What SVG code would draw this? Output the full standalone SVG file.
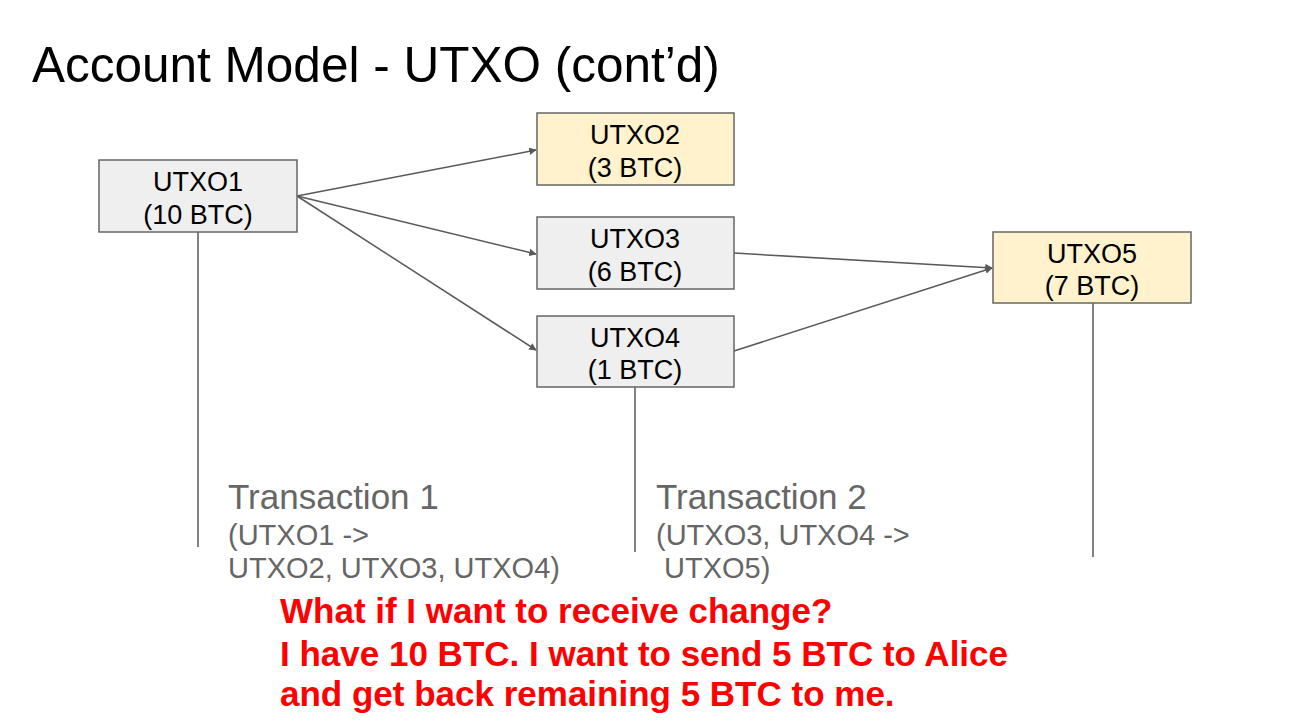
<svg xmlns="http://www.w3.org/2000/svg" width="1294" height="728" viewBox="0 0 1294 728">
<defs>
<marker id="arr" viewBox="0 0 10 10" refX="9" refY="5" markerWidth="5" markerHeight="5" orient="auto" markerUnits="strokeWidth">
<path d="M0,0 L10,5 L0,10 z" fill="#595959"/>
</marker>
<style>
.box{fill:#efefef;stroke:#666;stroke-width:1.5}
.yel{fill:#fff2cc;stroke:#666;stroke-width:1.5}
.nt{font-family:"Liberation Sans",Arial,sans-serif;font-size:27px;fill:#000;text-anchor:middle}
.ln{stroke:#595959;stroke-width:1.5;fill:none}
.tx{font-family:"Liberation Sans",Arial,sans-serif;fill:#666}
.red{font-family:"Liberation Sans",Arial,sans-serif;font-weight:bold;font-size:35px;fill:#ff0000}
</style>
</defs>
<rect width="1294" height="728" fill="#fff"/>
<text x="32" y="82" font-family="Liberation Sans, Arial, sans-serif" font-size="49.5" fill="#000">Account Model - UTXO (cont’d)</text>

<g id="connectors">
<line class="ln" x1="297" y1="196" x2="536" y2="150" marker-end="url(#arr)"/>
<line class="ln" x1="297" y1="196" x2="536" y2="254" marker-end="url(#arr)"/>
<line class="ln" x1="297" y1="196" x2="536" y2="350" marker-end="url(#arr)"/>
<line class="ln" x1="734" y1="253" x2="992" y2="268" marker-end="url(#arr)"/>
<line class="ln" x1="734" y1="351" x2="992" y2="268" marker-end="url(#arr)"/>
<line class="ln" x1="198" y1="232" x2="198" y2="547"/>
<line class="ln" x1="635" y1="387" x2="635" y2="552"/>
<line class="ln" x1="1093" y1="303" x2="1093" y2="557"/>
</g>

<g id="utxo1">
<rect class="box" x="99" y="160" width="198" height="72"/>
<text class="nt" x="198" y="191">UTXO1</text>
<text class="nt" x="198" y="224">(10 BTC)</text>
</g>
<g id="utxo2">
<rect class="yel" x="537" y="113" width="197" height="72"/>
<text class="nt" x="635" y="144">UTXO2</text>
<text class="nt" x="635" y="177">(3 BTC)</text>
</g>
<g id="utxo3">
<rect class="box" x="537" y="217" width="197" height="72"/>
<text class="nt" x="635" y="248">UTXO3</text>
<text class="nt" x="635" y="281">(6 BTC)</text>
</g>
<g id="utxo4">
<rect class="box" x="537" y="316" width="197" height="71"/>
<text class="nt" x="635" y="347">UTXO4</text>
<text class="nt" x="635" y="379">(1 BTC)</text>
</g>
<g id="utxo5">
<rect class="yel" x="993" y="232" width="198" height="71"/>
<text class="nt" x="1092" y="263">UTXO5</text>
<text class="nt" x="1092" y="295">(7 BTC)</text>
</g>

<g id="tx1">
<text class="tx" x="228" y="509" font-size="35">Transaction 1</text>
<text class="tx" x="228" y="545" font-size="29">(UTXO1 -&gt;</text>
<text class="tx" x="228" y="578" font-size="29">UTXO2, UTXO3, UTXO4)</text>
</g>
<g id="tx2">
<text class="tx" x="656" y="509" font-size="35">Transaction 2</text>
<text class="tx" x="656" y="545" font-size="29">(UTXO3, UTXO4 -&gt;</text>
<text class="tx" x="656" y="578" font-size="29" xml:space="preserve"> UTXO5)</text>
</g>

<g id="note">
<text class="red" x="280" y="623">What if I want to receive change?</text>
<text class="red" x="280" y="666">I have 10 BTC. I want to send 5 BTC to Alice</text>
<text class="red" x="280" y="706">and get back remaining 5 BTC to me.</text>
</g>
</svg>
